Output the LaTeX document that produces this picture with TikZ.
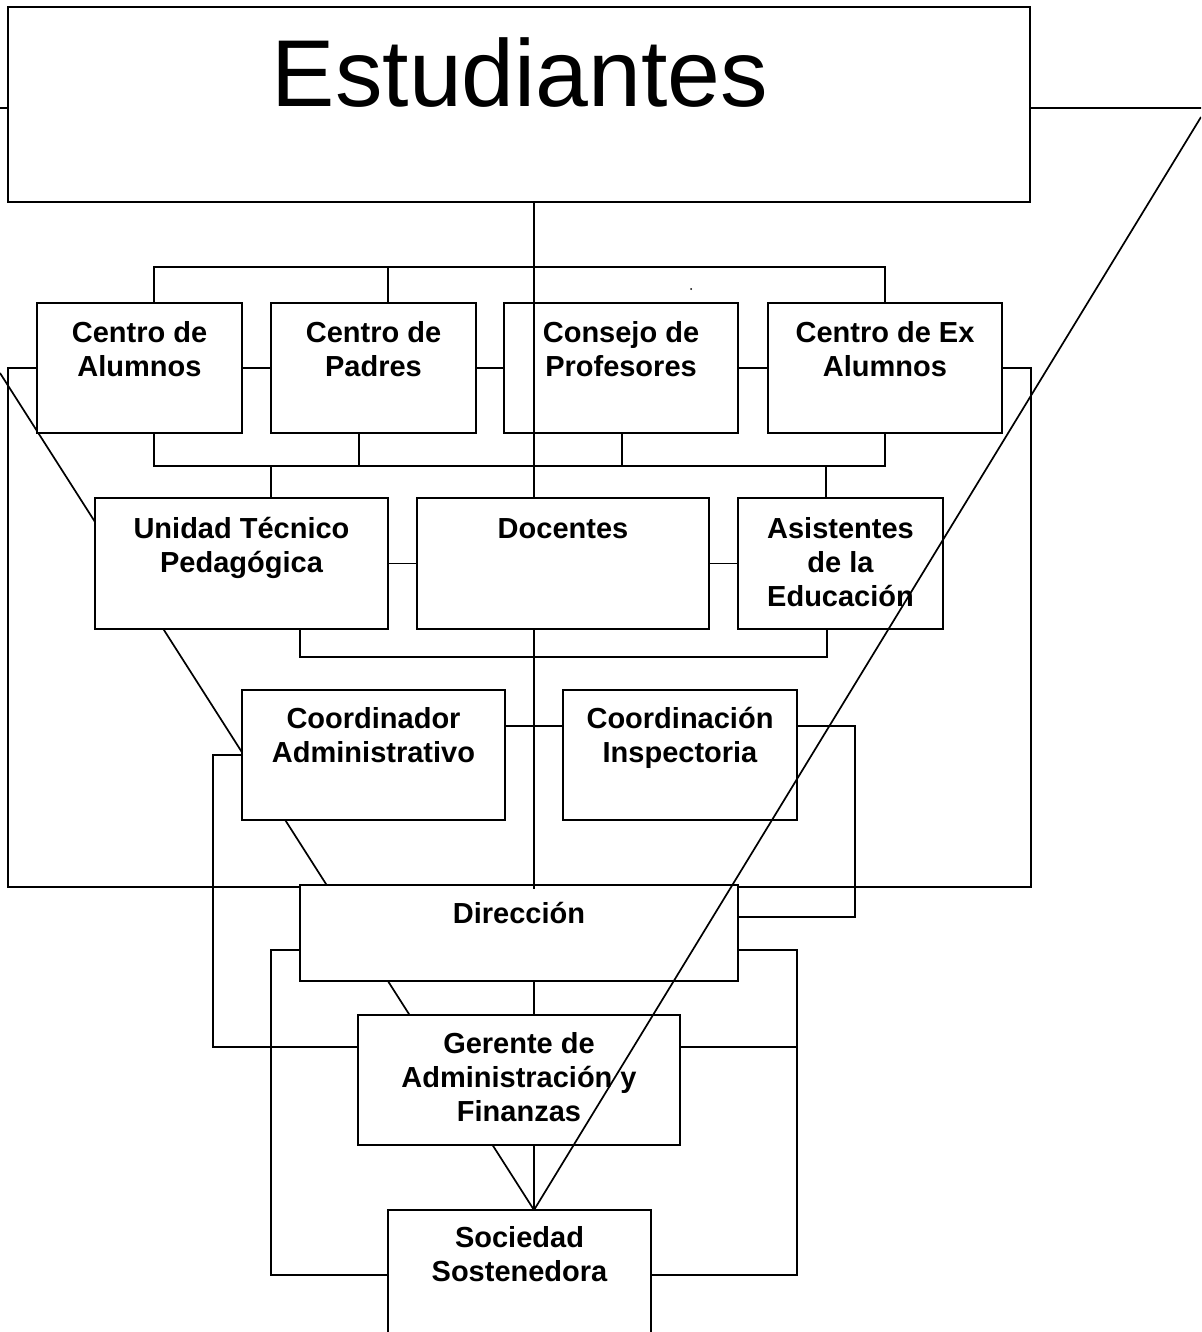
\documentclass[tikz,border=0pt]{standalone}
\usepackage{fontspec}
\setmainfont{Liberation Sans}
\newcommand\lbltab[1]{\begin{tabular}[t]{@{}c@{}}#1\end{tabular}}
\begin{document}
\begin{tikzpicture}[x=1pt,y=-1pt,
  box/.style={draw, line width=2.2pt, fill=white, inner sep=0pt, outer sep=0pt, rectangle},
  cn/.style={line width=1.7pt},
  lbl/.style={anchor=base, inner sep=0pt, font=\fontsize{29}{34}\selectfont\bfseries}]
\useasboundingbox (0,0) rectangle (1201,1332);
\clip (0,0) rectangle (1201,1332);
\fill[white] (0,0) rectangle (1201,1332);
\coordinate (cx) at (534,0);
\coordinate (ld) at (0,373);
\coordinate (rd) at (1201,117);
% boxes (positions)
\path (519,104.5) node[box, minimum width=1022pt, minimum height=195pt] (est) {};
% left diagonal behind boxes
\coordinate (socTop) at (534,1210);
\draw[cn] (ld) -- (socTop);
\node[box, minimum width=205pt, minimum height=130pt] (alu) at (139.5,368) {};
\node[box, minimum width=205pt, minimum height=130pt] (pad) at (373.5,368) {};
\node[box, minimum width=234pt, minimum height=130pt] (con) at (621,368) {};
\node[box, minimum width=234pt, minimum height=130pt] (exa) at (885,368) {};
\node[box, minimum width=293pt, minimum height=131pt] (utp) at (241.5,563.5) {};
\node[box, minimum width=292pt, minimum height=131pt] (doc) at (563,563.5) {};
\node[box, minimum width=205pt, minimum height=131pt] (asi) at (840.5,563.5) {};
\node[box, minimum width=263pt, minimum height=130pt] (cad) at (373.5,755) {};
\node[box, minimum width=234pt, minimum height=130pt] (cin) at (680,755) {};
\node[box, minimum width=438pt, minimum height=96pt] (dir) at (519,933) {};
\node[box, minimum width=322pt, minimum height=130pt] (ger) at (519,1080) {};
\node[box, minimum width=263pt, minimum height=190pt] (soc) at (519.5,1305) {};
% labels
\node[anchor=base, inner sep=0pt, font=\fontsize{95}{100}\selectfont] (estl) at (520,107) {Estudiantes};
\node[lbl] (alul) at ([yshift=-39pt]alu.north) {\lbltab{Centro de\\Alumnos}};
\node[lbl] (padl) at ([yshift=-39pt]pad.north) {\lbltab{Centro de\\Padres}};
\node[lbl] (conl) at ([yshift=-39pt]con.north) {\lbltab{Consejo de\\Profesores}};
\node[lbl] (exal) at ([yshift=-39pt]exa.north) {\lbltab{Centro de Ex\\Alumnos}};
\node[lbl] (utpl) at ([yshift=-40pt]utp.north) {\lbltab{Unidad Técnico\\Pedagógica}};
\node[lbl] (docl) at ([yshift=-40pt]doc.north) {\lbltab{Docentes}};
\node[lbl] (asil) at ([yshift=-40pt]asi.north) {\lbltab{Asistentes\\de la\\Educación}};
\node[lbl] (cadl) at ([yshift=-38pt]cad.north) {\lbltab{Coordinador\\Administrativo}};
\node[lbl] (cinl) at ([yshift=-38pt]cin.north) {\lbltab{Coordinación\\Inspectoria}};
\node[lbl] (dirl) at ([yshift=-38pt]dir.north) {\lbltab{Dirección}};
\node[lbl] (gerl) at ([yshift=-38pt]ger.north) {\lbltab{Gerente de\\Administración y\\Finanzas}};
\node[lbl] (socl) at ([yshift=-37pt]soc.north) {\lbltab{Sociedad\\Sostenedora}};
% stubs from Estudiantes
\draw[cn] ([yshift=-3.5pt]est.west) -- ++(-12,0);
\draw[cn] ([yshift=-3.5pt]est.east) -- ++(175,0);
% centre line
\draw[cn] (est.south -| cx) -- (doc.north -| cx);
\draw[cn] (doc.south -| cx) -- (534,889);
% top bus
\draw[cn] (alu.north -| 154,0) -- (154,267) -- (885,267) -- (exa.north);
\draw[cn] (388,267) -- (pad.north -| 388,0);
% top row links
\draw[cn] (alu.east) -- (pad.west);
\draw[cn] (pad.east) -- (con.west);
\draw[cn] (con.east) -- (exa.west);
% bottom bus of top row
\draw[cn] (alu.south -| 154,0) -- (154,466) -- (885,466) -- (exa.south);
\draw[cn] (pad.south -| 359,0) -- (359,466);
\draw[cn] (con.south -| 622,0) -- (622,466);
\draw[cn] (271,466) -- (utp.north -| 271,0);
\draw[cn] (826,466) -- (asi.north -| 826,0);
% second row
\draw[cn] (utp.east) -- (doc.west);
\draw[cn] (doc.east) -- (asi.west);
\draw[cn] (utp.south -| 300,0) -- (300,657) -- (827,657) -- (asi.south -| 827,0);
% third row
\draw[cn] (cad.east |- 0,726) -- (cin.west |- 0,726);
\draw[cn] (cad.west) -- (213,755) -- (213,1047) -- (ger.west |- 0,1047);
\draw[cn] (cin.east |- 0,726) -- (855,726) -- (855,917) -- (dir.east |- 0,917);
% outer frame
\draw[cn] (alu.west) -- (8,368) -- (8,887) -- (dir.west |- 0,887);
\draw[cn] (exa.east) -- (1031,368) -- (1031,887) -- (dir.east |- 0,887);
% direccion links
\draw[cn] (dir.west |- 0,950) -- (271,950) -- (271,1275) -- (soc.west |- 0,1275);
\draw[cn] (dir.east |- 0,950) -- (797,950) -- (797,1275) -- (soc.east |- 0,1275);
\draw[cn] (ger.east |- 0,1047) -- (797,1047);
\draw[cn] (dir.south -| cx) -- (ger.north -| cx);
\draw[cn] (ger.south -| cx) -- (socTop);
% right diagonal over boxes
\draw[cn] (rd) -- (socTop);
% stray dot
\fill (691,289) circle (1pt);
\end{tikzpicture}
\end{document}
